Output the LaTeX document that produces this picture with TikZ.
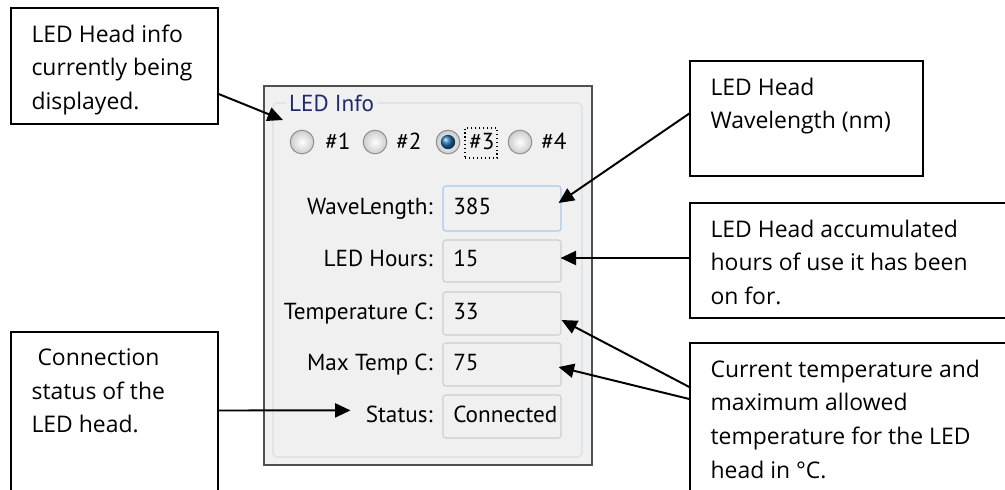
\documentclass[tikz,border=0pt]{standalone}
\usepackage{fontspec}
\setmainfont{Open Sans}
\newfontfamily\uifont{PT Sans}
\usetikzlibrary{arrows.meta,fit,positioning,shadings}
\definecolor{PanelBg}{HTML}{F0F0F0}
\definecolor{PanelEdge}{HTML}{505050}
\definecolor{GroupEdge}{HTML}{D5DFE5}
\definecolor{GroupTitle}{HTML}{1E2A6E}
\definecolor{FieldEdge}{HTML}{CDCDCD}
\definecolor{FocusEdge}{HTML}{A9C9E8}
\definecolor{RadioEdge}{HTML}{8E8E8E}
\definecolor{RadioDot}{HTML}{1F6FB2}

\begin{document}
\begin{tikzpicture}[x=0.025cm,y=-0.025cm,
  callbox/.style={draw,line width=1pt,inner sep=0pt},
  calltext/.style={anchor=north west,inner sep=0pt,align=left,
    font=\fontsize{16.3}{24}\selectfont},
  callarrow/.style={line width=1.4pt,-{Triangle[length=11pt,width=10pt]}},
  uibox/.style={draw=FieldEdge,fill=PanelBg,rounded corners=2pt,inner sep=0pt,line width=0.8pt},
  uilabel/.style={anchor=base east,inner sep=0pt,font=\uifont\fontsize{16.5}{18}\selectfont},
  uivalue/.style={anchor=base west,inner sep=0pt,font=\uifont\fontsize{16.5}{18}\selectfont},
  radio/.style={circle,draw=RadioEdge,inner color=white,outer color=gray!40,
    minimum size=0.59cm,inner sep=0pt,line width=0.7pt}]
  \useasboundingbox (0,0) rectangle (1005,489);
  \clip (0,0) rectangle (1005,489);

  % dialog panel
  \node[fit={(264,86) (592,465)},inner sep=0pt,draw=PanelEdge,fill=PanelBg,line width=1pt] (panel) {};
  \draw[GroupEdge,rounded corners=3pt,line width=0.8pt] (273,103) rectangle (582,457);
  \node[uivalue,fill=PanelBg,inner xsep=2pt,text=GroupTitle] (grouptitle) at (286,111) {LED Info};

  % radio buttons
  \node[radio] (rad1) at (302,142) {};
  \node[radio] (rad2) at (375,142) {};
  \node[radio] (rad3) at (448,142) {};
  \node[radio] (rad4) at (520,142) {};
  \node[circle,ball color=RadioDot,minimum size=0.36cm,inner sep=0pt] (dot3) at (rad3) {};
  \node[uivalue] (num1) at (325,149) {\#1};
  \node[uivalue] (num2) at (396,149) {\#2};
  \node[uivalue] (num3) at (469,149) {\#3};
  \node[uivalue] (num4) at (541,149) {\#4};
  \node[fit={(465,128) (497,158)},inner sep=0pt,draw,dotted,line width=0.8pt] (focus) {};

  % fields
  \node[uibox,draw=FocusEdge,fit={(443,186) (561,231)}] (wlfield) {};
  \node[uibox,fit={(443,240) (561,282)}] (hrsfield) {};
  \node[uibox,fit={(443,292) (561,335)}] (tmpfield) {};
  \node[uibox,fit={(443,343) (561,386)}] (maxfield) {};
  \node[uibox,fit={(443,395) (561,438)}] (stfield) {};

  \node[uilabel] (wllab) at (433,214) {WaveLength:};
  \node[uilabel] (hrslab) at (433,266.5) {LED Hours:};
  \node[uilabel] (tmplab) at (433,319) {Temperature C:};
  \node[uilabel] (maxlab) at (433,370) {Max Temp C:};
  \node[uilabel] (stlab) at (433,422) {Status:};

  \node[uivalue] (wlval) at (453,214) {385};
  \node[uivalue] (hrsval) at (453,266.5) {15};
  \node[uivalue] (tmpval) at (453,319) {33};
  \node[uivalue] (maxval) at (453,370) {75};
  \node[uivalue] (stval) at (453,422) {Connected};

  % callouts
  \node[callbox,fit={(11,8) (218,124)}] (infobox) {};
  \node[calltext] (infotext) at ([shift={(21,17)}]infobox.north west)
    {LED Head info\\currently being\\displayed.};
  \node[callbox,fit={(690,61) (923,176)}] (wlbox) {};
  \node[calltext] (wltext) at ([shift={(21,17)}]wlbox.north west)
    {LED Head\\Wavelength (nm)};
  \node[callbox,fit={(690,203) (1030,318)}] (accbox) {};
  \node[calltext] (acctext) at ([shift={(21,17)}]accbox.north west)
    {LED Head accumulated\\hours of use it has been\\on for.};
  \node[callbox,fit={(690,343) (1030,520)}] (curbox) {};
  \node[calltext] (curtext) at ([shift={(21,17)}]curbox.north west)
    {Current temperature and\\maximum allowed\\temperature for the LED\\head in °C.};
  \node[callbox,fit={(11,332) (218,520)}] (conbox) {};
  \node[calltext] (context) at ([shift={(21,17)}]conbox.north west)
    {\ Connection\\status of the\\LED head.};

  % arrows
  \coordinate (radtip) at (283,120);
  \draw[callarrow] ([shift={(0,28)}]infobox.east) -- (radtip);
  \draw[callarrow] ([shift={(0,-5)}]wlbox.west) -- ([shift={(-3,-5.5)}]wlfield.east);
  \draw[callarrow] ([shift={(0,-2.5)}]accbox.west) -- ([shift={(-1,-3)}]hrsfield.east);
  \draw[callarrow] ([shift={(0,-44.5)}]curbox.west) -- ([shift={(0,6.5)}]tmpfield.east);
  \draw[callarrow] ([shift={(0,-32.5)}]curbox.west) -- ([shift={(-3,2.5)}]maxfield.east);
  \draw[callarrow] ([shift={(0,-15.5)}]conbox.east) -- ([shift={(-15,-3.5)}]stlab.west);
\end{tikzpicture}
\end{document}
